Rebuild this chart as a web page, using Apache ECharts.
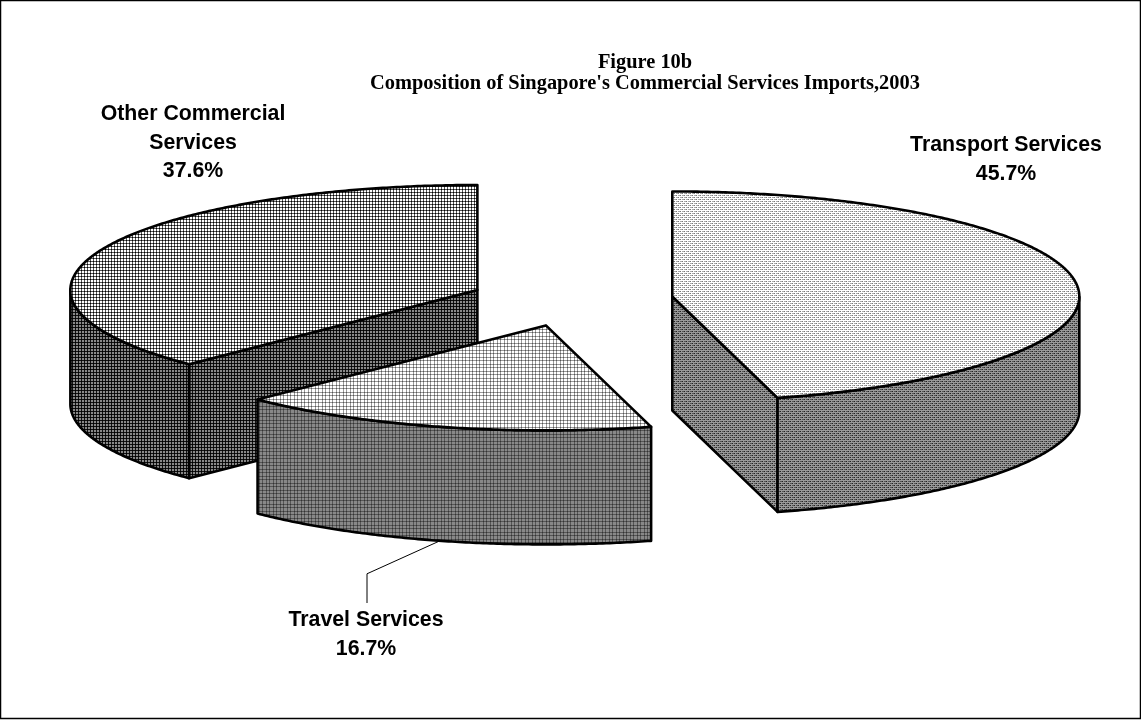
<!DOCTYPE html>
<html><head><meta charset="utf-8">
<style>html,body{margin:0;padding:0;background:#fff}#c{width:1141px;height:720px}</style>
<script src="https://cdn.jsdelivr.net/npm/echarts@6/dist/echarts.min.js"></script>
</head><body><div id="c"></div>
<script>
const categories = ['Transport Services', 'Travel Services', 'Other Commercial\nServices'];
const shares = [45.7, 16.7, 37.6];
const titleLines = ['Figure 10b', "Composition of Singapore's Commercial Services Imports,2003"];

// layout only
const CX = 571.5, CY = 300, RX = 407, RY = 105, DEPTH = 114, EXPLODE = 0.25, TILT = 0.5;
const labelAt = [[1006, 144], [366, 619], [193, 113]];
const drawOrder = [2, 0, 1];
const LINE = 2.6;

function tile(rows, pal) {
  const c = document.createElement('canvas');
  c.width = rows[0].length; c.height = rows.length;
  const x = c.getContext('2d');
  rows.forEach((r, j) => [...r].forEach((ch, i) => { x.fillStyle = pal[ch]; x.fillRect(i, j, 1, 1); }));
  return { image: c, repeat: 'repeat' };
}
const grid3 = ['xll', 'lhh', 'lhh'];
const grid7 = ['xllxlll', 'lhhlhhh', 'lhhlhhh', 'xllxlll', 'lhhlhhh', 'lhhlhhh', 'lhhlhhh'];
const dash = ['hhhh', 'llxh', 'hhhh', 'xhll'];
const fills = [
  { top: tile(dash, { x: '#777', l: '#aaa', h: '#fff' }), side: tile(dash, { x: '#222', l: '#555', h: '#999' }) },
  { top: tile(grid7, { x: '#555', l: '#999', h: '#fff' }), side: tile(grid7, { x: '#333', l: '#555', h: '#888' }) },
  { top: tile(grid3, { x: '#000', l: '#555', h: '#fff' }), side: tile(grid3, { x: '#000', l: '#111', h: '#888' }) }
];

const total = shares.reduce((a, b) => a + b, 0);
const D2R = Math.PI / 180;
const starts = []; shares.reduce((acc, v, i) => { starts[i] = acc; return acc + v / total * 360; }, 0);

function pt(deg, cx, cy) {
  const d = deg + TILT * Math.sin(deg * D2R / 2);
  return [cx + RX * Math.sin(d * D2R), cy - RY * Math.cos(d * D2R)];
}
function arc(a, b, cx, cy) {
  const n = Math.max(2, Math.ceil(Math.abs(b - a) * 2)), out = [];
  for (let i = 0; i <= n; i++) out.push(pt(a + (b - a) * i / n, cx, cy));
  return out;
}
const down = p => [p[0], p[1] + DEPTH];
const edge = { stroke: '#000', lineWidth: LINE, lineJoin: 'round' };

function renderItem(params, api) {
  const i = api.value(0), v = api.value(1);
  const a = starts[i], b = a + v / total * 360, mid = (a + b) / 2;
  const cx = CX + EXPLODE * RX * Math.sin(mid * D2R);
  const cy = CY - EXPLODE * RY * Math.cos(mid * D2R);
  const c = [cx, cy], kids = [];
  const poly = (points, fill) => kids.push({ type: 'polygon', shape: { points }, style: Object.assign({ fill }, edge) });

  if (Math.sin(a * D2R) < -1e-6) { const p = pt(a, cx, cy); poly([c, p, down(p), down(c)], fills[i].side); }
  if (Math.sin(b * D2R) > 1e-6) { const p = pt(b, cx, cy); poly([c, p, down(p), down(c)], fills[i].side); }
  const la = Math.max(a, 90), lb = Math.min(b, 270);
  if (lb > la) {
    const top = arc(la, lb, cx, cy);
    poly(top.concat(top.slice().reverse().map(down)), fills[i].side);
  }
  poly([c].concat(arc(a, b, cx, cy)), fills[i].top);

  // leader line of the lower slice, from the middle of its wall to its label
  if (i === 1) {
    const s = down(pt(mid, cx, cy));
    kids.push({ type: 'polyline', shape: { points: [s, [labelAt[1][0] + 1, s[1] + 33], [labelAt[1][0] + 1, labelAt[1][1] - 16]] },
      style: { stroke: '#000', lineWidth: 1, fill: null } });
  }
  kids.push({ type: 'text', style: {
    x: labelAt[i][0], y: labelAt[i][1] - 13.5, text: categories[i] + '\n' + v.toFixed(1) + '%',
    align: 'center', verticalAlign: 'top', lineHeight: 28.8,
    font: 'bold 21.3px "Liberation Sans", Arial, sans-serif', fill: '#000' } });
  return { type: 'group', children: kids };
}

const chart = echarts.init(document.getElementById('c'), null, { renderer: 'canvas' });
chart.setOption({
  animation: false,
  backgroundColor: '#fff',
  title: {
    text: titleLines.join('\n'), left: 640, top: 47, textAlign: 'center',
    textStyle: { fontFamily: '"Liberation Serif", "Times New Roman", serif', fontWeight: 'bold', fontSize: 20.4, lineHeight: 21, color: '#000' }
  },
  graphic: [{ type: 'rect', shape: { x: 0.5, y: 0.5, width: 1140, height: 718 }, style: { fill: null, stroke: '#000', lineWidth: 1.5 }, silent: true }],
  series: [{
    type: 'custom', coordinateSystem: 'none', renderItem,
    data: drawOrder.map(i => [i, shares[i]])
  }]
});
</script></body></html>
